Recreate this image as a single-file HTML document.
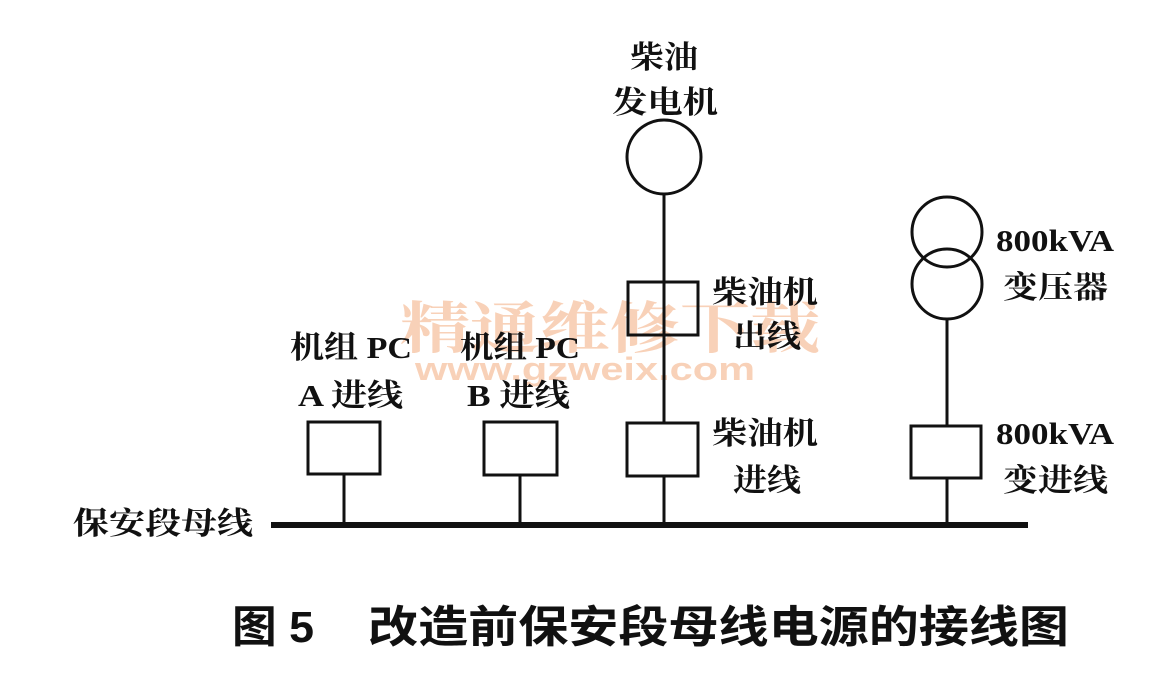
<!DOCTYPE html>
<html><head><meta charset="utf-8"><style>
html,body{margin:0;padding:0;background:#fff;}
svg{display:block;}
.l{font-family:"Liberation Serif","Noto Serif CJK SC",serif;font-size:31px;font-weight:bold;fill:#111;}
.c{font-family:"Liberation Sans","Noto Sans CJK SC",sans-serif;font-size:44px;font-weight:bold;fill:#111;}
</style></head><body>
<svg width="1163" height="678" viewBox="0 0 1163 678" xmlns="http://www.w3.org/2000/svg">
<g fill="#f5b48a" opacity="0.6">
  <text x="400" y="348" font-family="Liberation Serif,'Noto Serif CJK SC',serif" font-size="56" font-weight="bold" textLength="420" lengthAdjust="spacingAndGlyphs">精通维修下载</text>
  <text x="415" y="380" font-family="Liberation Sans,sans-serif" font-size="32" font-weight="bold" textLength="340" lengthAdjust="spacingAndGlyphs">www.gzweix.com</text>
</g>
<g stroke="#111" stroke-width="3" fill="none">
  <circle cx="664" cy="157" r="37"/>
  <line x1="664" y1="194" x2="664" y2="525"/>
  <rect x="628" y="282" width="70" height="53"/>
  <rect x="627" y="423" width="71" height="53" fill="#fff"/>
  <circle cx="947" cy="232" r="35"/>
  <circle cx="947" cy="284" r="35"/>
  <line x1="947" y1="319" x2="947" y2="525"/>
  <rect x="911" y="426" width="70" height="52" fill="#fff"/>
  <rect x="308" y="422" width="72" height="52" fill="#fff"/>
  <line x1="344" y1="474" x2="344" y2="525"/>
  <rect x="484" y="422" width="73" height="53" fill="#fff"/>
  <line x1="520" y1="475" x2="520" y2="525"/>
</g>
<line x1="271" y1="525" x2="1028" y2="525" stroke="#111" stroke-width="6"/>
<g class="l">
  <text x="630" y="68" textLength="68" lengthAdjust="spacingAndGlyphs">柴油</text>
  <text x="612" y="113" textLength="106" lengthAdjust="spacingAndGlyphs">发电机</text>
  <text x="712" y="303" textLength="106" lengthAdjust="spacingAndGlyphs">柴油机</text>
  <text x="733" y="347" textLength="68" lengthAdjust="spacingAndGlyphs">出线</text>
  <text x="712" y="444" textLength="106" lengthAdjust="spacingAndGlyphs">柴油机</text>
  <text x="733" y="491" textLength="68" lengthAdjust="spacingAndGlyphs">进线</text>
  <text x="996" y="251" textLength="118" lengthAdjust="spacingAndGlyphs">800kVA</text>
  <text x="1003" y="298" textLength="105" lengthAdjust="spacingAndGlyphs">变压器</text>
  <text x="996" y="444" textLength="118" lengthAdjust="spacingAndGlyphs">800kVA</text>
  <text x="1003" y="491" textLength="105" lengthAdjust="spacingAndGlyphs">变进线</text>
  <text x="290" y="358" textLength="122" lengthAdjust="spacingAndGlyphs">机组 PC</text>
  <text x="298" y="406" textLength="105" lengthAdjust="spacingAndGlyphs">A 进线</text>
  <text x="460" y="358" textLength="120" lengthAdjust="spacingAndGlyphs">机组 PC</text>
  <text x="467" y="406" textLength="103" lengthAdjust="spacingAndGlyphs">B 进线</text>
  <text x="73" y="534" textLength="180" lengthAdjust="spacingAndGlyphs">保安段母线</text>
</g>
<g class="c">
  <text x="232" y="642" textLength="82" lengthAdjust="spacingAndGlyphs">图 5</text>
  <text x="368" y="642" textLength="701" lengthAdjust="spacingAndGlyphs">改造前保安段母线电源的接线图</text>
</g>
</svg>
</body></html>
